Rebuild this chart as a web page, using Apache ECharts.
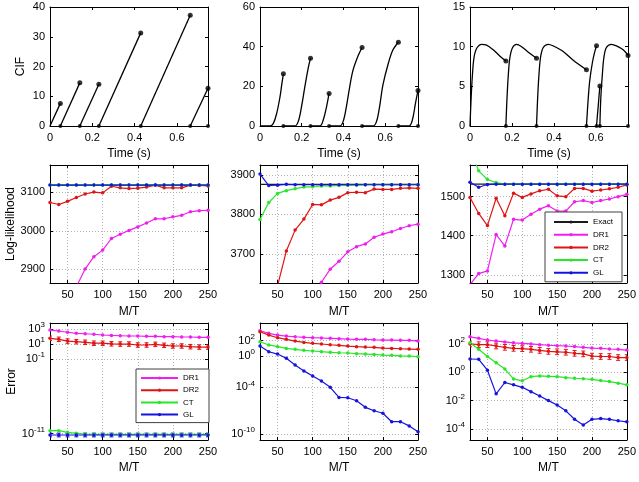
<!DOCTYPE html>
<html>
<head>
<meta charset="utf-8">
<script src="https://cdn.jsdelivr.net/npm/echarts@6/dist/echarts.min.js"></script>
<style>
  html, body { margin: 0; padding: 0; background: #fff; }
  #chart { width: 639px; height: 482px; }
</style>
</head>
<body>
<div id="chart"></div>
<script>
// ---- fila 1: CIF frente al tiempo ----
const cifMax = [40, 60, 15];
const cifInterval = [10, 20, 5];
const timeMax = [0.747, 0.757, 0.753];
const timeTicks = [0, 0.2, 0.4, 0.6];

const spikes1 = [0.049, 0.141, 0.231, 0.429, 0.663, 0.747];
const peaks1 = [7.6, 14.5, 14.0, 31.3, 37.2, 12.7];

const spikes2 = [0.112, 0.242, 0.331, 0.489, 0.663, 0.757];
const peaks2 = [26.3, 34.2, 16.4, 39.6, 42.2, 17.9];
const curve2 = [
    [[0, 0], [0.048, 0], [0.064, 1.3], [0.080, 6.4], [0.096, 14.8], [0.104, 20.7], [0.112, 26.3]],
    [[0.112, 0], [0.167, 0], [0.183, 2.2], [0.199, 9.8], [0.215, 19.9], [0.231, 29.2], [0.242, 34.2]],
    [[0.242, 0], [0.287, 0], [0.303, 3.0], [0.319, 9.8], [0.331, 16.4]],
    [[0.331, 0], [0.382, 0], [0.398, 2.2], [0.414, 9.8], [0.430, 19.9], [0.446, 28.3], [0.470, 35.4], [0.489, 39.6]],
    [[0.489, 0], [0.542, 0], [0.558, 2.2], [0.573, 9.8], [0.589, 20.7], [0.613, 30.9], [0.637, 38.4], [0.663, 42.2]],
    [[0.663, 0], [0.714, 0], [0.730, 3.0], [0.745, 11.5], [0.757, 17.9]]
];

const spikes3 = [0.171, 0.317, 0.555, 0.603, 0.619, 0.753];
const peaks3 = [8.2, 8.55, 7.1, 10.1, 5.05, 8.9];
const curve3 = [
    [[0, 0], [0.005, 3.3], [0.011, 6.2], [0.019, 8.6], [0.032, 9.8], [0.056, 10.3], [0.079, 10.2], [0.111, 9.6], [0.143, 8.8], [0.171, 8.2]],
    [[0.171, 0], [0.176, 3.3], [0.182, 6.2], [0.190, 8.6], [0.203, 9.9], [0.222, 10.3], [0.246, 10.0], [0.278, 9.3], [0.317, 8.55]],
    [[0.317, 0], [0.322, 3.3], [0.328, 6.2], [0.336, 8.6], [0.349, 9.9], [0.373, 10.3], [0.396, 10.1], [0.444, 9.4], [0.492, 8.3], [0.555, 7.1]],
    [[0.555, 0], [0.563, 3.3], [0.571, 5.8], [0.584, 8.1], [0.595, 9.4], [0.603, 10.1]],
    [[0.603, 0], [0.619, 5.05]],
    [[0.619, 0], [0.623, 3.3], [0.630, 6.2], [0.638, 8.6], [0.650, 9.9], [0.674, 10.3], [0.698, 10.1], [0.730, 9.6], [0.753, 8.9]]
];

// ---- filas 2 y 3: M/T ----
const mt = [25, 37.5, 50, 62.5, 75, 87.5, 100, 112.5, 125, 137.5, 150, 162.5, 175, 187.5, 200, 212.5, 225, 237.5, 250];
const mtTicks = [50, 100, 150, 200, 250];

// log-verosimilitud
const exactLL = [3118, 3876, 1532];
const llDR1a = [2700, 2770, 2820, 2855, 2901, 2933, 2950, 2980, 2991, 3001, 3010, 3020, 3031, 3031, 3036, 3040, 3049, 3052, 3053];
const llDR2a = [3073, 3068, 3076, 3086, 3095, 3100, 3098, 3115, 3111, 3109, 3110, 3113, 3118, 3111, 3111, 3111, 3118, 3117, 3116];
const llCTa = [3118, 3118, 3118, 3118, 3118, 3118, 3118, 3118, 3118, 3118, 3118, 3118, 3118, 3118, 3118, 3118, 3118, 3118, 3118];
const llGLa = [3118, 3118, 3118, 3118, 3118, 3118, 3118, 3118, 3118, 3118, 3118, 3118, 3118, 3118, 3118, 3118, 3118, 3118, 3118];

const llDR1b = [3300, 3400, 3470, 3520, 3560, 3590, 3560, 3628, 3661, 3681, 3705, 3718, 3725, 3742, 3750, 3756, 3764, 3771, 3775];
const llDR2b = [3450, 3550, 3619, 3707, 3760, 3788, 3825, 3824, 3836, 3843, 3855, 3856, 3855, 3864, 3863, 3863, 3866, 3867, 3866];
const llCTb = [3787, 3830, 3853, 3860, 3865, 3869, 3870, 3872, 3872, 3873, 3874, 3874, 3875, 3875, 3875, 3875, 3875, 3875, 3875];
const llGLb = [3902, 3873, 3874, 3876, 3875, 3875, 3875, 3875, 3875, 3875, 3875, 3875, 3875, 3875, 3875, 3875, 3875, 3875, 3875];

const llDR1c = [1275, 1303, 1310, 1403, 1374, 1442, 1440, 1455, 1468, 1477, 1463, 1463, 1487, 1490, 1485, 1490, 1494, 1500, 1506];
const llDR2c = [1498, 1457, 1426, 1496, 1451, 1509, 1498, 1507, 1515, 1519, 1502, 1500, 1521, 1521, 1514, 1517, 1520, 1524, 1530];
const llCTc = [1620, 1566, 1544, 1536, 1532, 1532, 1532, 1532, 1532, 1532, 1532, 1532, 1532, 1532, 1532, 1532, 1532, 1532, 1532];
const llGLc = [1537, 1524, 1531, 1532, 1532, 1532, 1532, 1532, 1532, 1532, 1532, 1532, 1532, 1532, 1532, 1532, 1532, 1532, 1532];

// error
const errDR1a = [690, 510, 350, 250, 220, 190, 150, 130, 120, 110, 110, 100, 100, 89, 89, 81, 81, 74, 74];
const errDR2a = [54, 40, 23, 19, 16, 12, 12, 10, 9.3, 9.3, 6.9, 6.9, 8.5, 6.3, 5.1, 5.1, 4.1, 3.7, 3.7];
const errCTa = [2.5e-11, 2.5e-11, 1.5e-11, 1.1e-11, 8.9e-12, 8.1e-12, 7.9e-12, 7.9e-12, 7.9e-12, 7.9e-12, 7.9e-12, 7.9e-12, 7.9e-12, 7.9e-12, 7.9e-12, 7.9e-12, 7.9e-12, 7.9e-12, 7.9e-12];
const errGLa = [6.6e-12, 6.6e-12, 6.6e-12, 6.6e-12, 6.6e-12, 6.6e-12, 6.6e-12, 6.6e-12, 6.6e-12, 6.6e-12, 6.6e-12, 6.6e-12, 6.6e-12, 6.6e-12, 6.6e-12, 6.6e-12, 6.6e-12, 6.6e-12, 6.6e-12];

const errDR1b = [1900, 870, 520, 390, 320, 270, 240, 220, 200, 180, 160, 150, 150, 130, 120, 120, 110, 110, 89];
const errDR2b = [1400, 520, 240, 150, 89, 60, 46, 37, 30, 25, 20, 17, 15, 14, 11, 10, 9.1, 8.3, 7.6];
const errCTb = [72, 28, 17, 10, 7.6, 5.8, 4.7, 3.8, 3.2, 2.8, 2.6, 2.1, 1.9, 1.7, 1.4, 1.3, 1.1, 1.05, 0.85];
const errGLb = [20, 3.8, 1.9, 0.54, 0.074, 0.013, 2.8e-3, 6.5e-4, 1.0e-4, 5.1e-6, 4.6e-6, 1.9e-6, 2.7e-7, 9.8e-8, 4.6e-8, 3.8e-9, 3.8e-9, 1.1e-9, 1.9e-10];

const errDR1c = [320, 250, 190, 160, 140, 120, 110, 100, 89, 81, 76, 72, 65, 58, 51, 49, 44, 42, 37];
const errDR2c = [100, 89, 89, 72, 58, 49, 47, 42, 35, 30, 28, 26, 22, 20, 14, 13, 13, 11, 11];
const errCTc = [120, 42, 13, 4.8, 1.7, 0.34, 0.25, 0.49, 0.55, 0.52, 0.49, 0.42, 0.38, 0.35, 0.32, 0.26, 0.22, 0.17, 0.13];
const errGLc = [8.7, 8.3, 1.4, 0.030, 0.19, 0.13, 0.087, 0.043, 0.021, 0.010, 4.9e-3, 1.9e-3, 4.8e-4, 1.9e-4, 4.8e-4, 5.4e-4, 4.8e-4, 3.8e-4, 3.2e-4];

// exponentes de las etiquetas logaritmicas y rango (en decadas)
const logTicks = [[-11, -1, 1, 3], [-10, -4, 0, 2], [-4, -2, 0, 2]];
const logRange = [[-11.85, 3.78], [-10.77, 4.27], [-4.78, 3.48]];
const llRange = [[2865, 3170], [3626, 3925], [1279, 1581]];
const llTicks = [[2900, 3000, 3100], [3700, 3800, 3900], [1300, 1400, 1500]];

// ---- estilos ----
const FONT = '"Liberation Sans", Arial, Helvetica, sans-serif';
const COLORS = { Exact: '#1a1a1a', DR1: '#f01ef0', DR2: '#e01414', CT: '#28e628', GL: '#1414dc' };
const colLeft = [50, 260, 470];
const rowTop = [7, 165, 323];
const rowH = [119, 118, 117];

const chart = echarts.init(document.getElementById('chart'));

const grids = [];
const xAxes = [];
const yAxes = [];
const series = [];

function axis(gi, pos, cfg, mirror) {
    const ax = {
        type: 'value', gridIndex: gi, position: pos,
        min: cfg.min, max: cfg.max,
        axisLine: { show: true, onZero: false, lineStyle: { color: '#000', width: 1 } },
        axisTick: { show: true, inside: true, length: 3, lineStyle: { color: '#000' } },
        axisLabel: {
            show: !mirror, fontFamily: FONT, fontSize: 11, color: '#000', margin: cfg.margin,
            formatter: cfg.fmt || (v => String(v))
        },
        splitLine: { show: !mirror && !!cfg.grid, lineStyle: { color: '#b4b4b4', type: [1, 2], width: 1 } }
    };
    if (cfg.interval) ax.interval = cfg.interval;
    if (cfg.ticks) {
        ax.axisTick.customValues = cfg.ticks;
        ax.axisLabel.customValues = cfg.ticks;
    }
    if (cfg.rich) ax.axisLabel.rich = cfg.rich;
    if (!mirror && cfg.name) {
        ax.name = cfg.name;
        ax.nameLocation = 'middle';
        ax.nameGap = cfg.nameGap;
        ax.nameTextStyle = { fontFamily: FONT, fontSize: 12, color: '#000' };
    }
    return ax;
}

const supRich = {
    b: { fontFamily: FONT, fontSize: 11, color: '#000' },
    s: { fontFamily: FONT, fontSize: 8, color: '#000', padding: [0, 0, 8, 0] }
};
const supFmt = v => '{b|10}{s|' + v + '}';

for (let r = 0; r < 3; r++) {
    for (let c = 0; c < 3; c++) {
        const gi = r * 3 + c;
        grids.push({ left: colLeft[c], top: rowTop[r], width: 158, height: rowH[r] });
        let xc, yc;
        if (r === 0) {
            xc = { min: 0, max: timeMax[c], ticks: timeTicks, margin: 6, name: 'Time (s)', nameGap: 22 };
            yc = { min: 0, max: cifMax[c], interval: cifInterval[c], margin: 5,
                   name: c === 0 ? 'CIF' : '', nameGap: 23 };
        } else if (r === 1) {
            xc = { min: 25, max: 250, ticks: mtTicks, margin: 6, grid: true, name: 'M/T', nameGap: 23 };
            yc = { min: llRange[c][0], max: llRange[c][1], ticks: llTicks[c], margin: 5, grid: true,
                   name: c === 0 ? 'Log-likelihood' : '', nameGap: 32 };
        } else {
            xc = { min: 25, max: 250, ticks: mtTicks, margin: 6, grid: true, name: 'M/T', nameGap: 22 };
            yc = { min: logRange[c][0], max: logRange[c][1], ticks: logTicks[c], margin: 5, grid: true,
                   fmt: supFmt, rich: supRich, name: c === 0 ? 'Error' : '', nameGap: 32 };
        }
        xAxes[gi] = axis(gi, 'bottom', xc, false);
        xAxes[9 + gi] = axis(gi, 'top', xc, true);
        yAxes[gi] = axis(gi, 'left', yc, false);
        yAxes[9 + gi] = axis(gi, 'right', yc, true);
    }
}

// fila 1
function addCif(gi, segs, spikes, peaks, smooth) {
    segs.forEach(seg => series.push({
        type: 'line', xAxisIndex: gi, yAxisIndex: gi, data: seg, smooth: smooth,
        symbol: 'none', silent: true, lineStyle: { color: '#000', width: 1.3 }
    }));
    series.push({
        type: 'scatter', xAxisIndex: gi, yAxisIndex: gi, clip: false, silent: true,
        data: spikes.map((t, k) => [t, peaks[k]]), symbolSize: 5, itemStyle: { color: '#000' }
    });
    series.push({
        type: 'scatter', xAxisIndex: gi, yAxisIndex: gi, clip: false, silent: true,
        data: spikes.map(t => [t, 0]), symbolSize: 4, itemStyle: { color: '#000' }
    });
}
const curve1 = spikes1.map((t, k) => [[k ? spikes1[k - 1] : 0, 0], [t, peaks1[k]]]);
addCif(0, curve1, spikes1, peaks1, false);
addCif(1, curve2, spikes2, peaks2, 0.35);
addCif(2, curve3, spikes3, peaks3, 0.35);

// filas 2 y 3
function addLine(gi, name, values, useLog) {
    series.push({
        name: name, type: 'line', xAxisIndex: gi, yAxisIndex: gi,
        data: mt.map((x, k) => [x, useLog ? Math.log10(values[k]) : values[k]]),
        symbol: 'circle', symbolSize: 3.5, showSymbol: true, silent: true,
        itemStyle: { color: COLORS[name] },
        lineStyle: { color: COLORS[name], width: 1.2 }
    });
}
function addExact(gi, value) {
    series.push({
        name: 'Exact', type: 'line', xAxisIndex: gi, yAxisIndex: gi,
        data: [[25, value], [250, value]], symbol: 'none', silent: true,
        itemStyle: { color: COLORS.Exact }, lineStyle: { color: COLORS.Exact, width: 1.4 }
    });
}
function addErrBars(gi, values, spread, color) {
    series.push({
        type: 'custom', xAxisIndex: gi, yAxisIndex: gi, silent: true, clip: true, z: 3,
        data: mt.map((x, k) => [x, Math.log10(values[k]) - spread, Math.log10(values[k]) + spread]),
        encode: { x: 0, y: [1, 2] },
        renderItem: function (params, api) {
            const hi = api.coord([api.value(0), api.value(2)]);
            const lo = api.coord([api.value(0), api.value(1)]);
            const st = { stroke: color, lineWidth: 1 };
            return {
                type: 'group', children: [
                    { type: 'line', shape: { x1: hi[0], y1: hi[1], x2: lo[0], y2: lo[1] }, style: st },
                    { type: 'line', shape: { x1: hi[0] - 2, y1: hi[1], x2: hi[0] + 2, y2: hi[1] }, style: st },
                    { type: 'line', shape: { x1: lo[0] - 2, y1: lo[1], x2: lo[0] + 2, y2: lo[1] }, style: st }
                ]
            };
        }
    });
}

const llSets = [[llDR1a, llDR2a, llCTa, llGLa], [llDR1b, llDR2b, llCTb, llGLb], [llDR1c, llDR2c, llCTc, llGLc]];
const errSets = [[errDR1a, errDR2a, errCTa, errGLa], [errDR1b, errDR2b, errCTb, errGLb], [errDR1c, errDR2c, errCTc, errGLc]];
const names = ['DR1', 'DR2', 'CT', 'GL'];

for (let c = 0; c < 3; c++) {
    addExact(3 + c, exactLL[c]);
    names.forEach((n, k) => addLine(3 + c, n, llSets[c][k], false));
    names.forEach((n, k) => addLine(6 + c, n, errSets[c][k], true));
}
// barras de error visibles
addErrBars(6, errDR2a, 0.3, COLORS.DR2);
addErrBars(6, errGLa, 0.25, COLORS.GL);
addErrBars(8, errDR2c, 0.2, COLORS.DR2);

const legendBase = {
    orient: 'vertical', selectedMode: false,
    backgroundColor: '#fff', borderColor: '#404040', borderWidth: 1,
    itemHeight: 4, textStyle: { fontFamily: FONT, fontSize: 8, color: '#000', lineHeight: 10 }
};

chart.setOption({
    animation: false,
    backgroundColor: '#fff',
    grid: grids,
    xAxis: xAxes,
    yAxis: yAxes,
    legend: [
        Object.assign({}, legendBase, {
            data: ['Exact', 'DR1', 'DR2', 'CT', 'GL'],
            left: 545, top: 212, itemWidth: 34, itemGap: 2.7, padding: [5, 9, 4, 8]
        }),
        Object.assign({}, legendBase, {
            data: ['DR1', 'DR2', 'CT', 'GL'],
            left: 136, top: 369, itemWidth: 37, itemGap: 2.2, padding: [4, 10, 3, 4]
        })
    ],
    series: series
});
</script>
</body>
</html>
